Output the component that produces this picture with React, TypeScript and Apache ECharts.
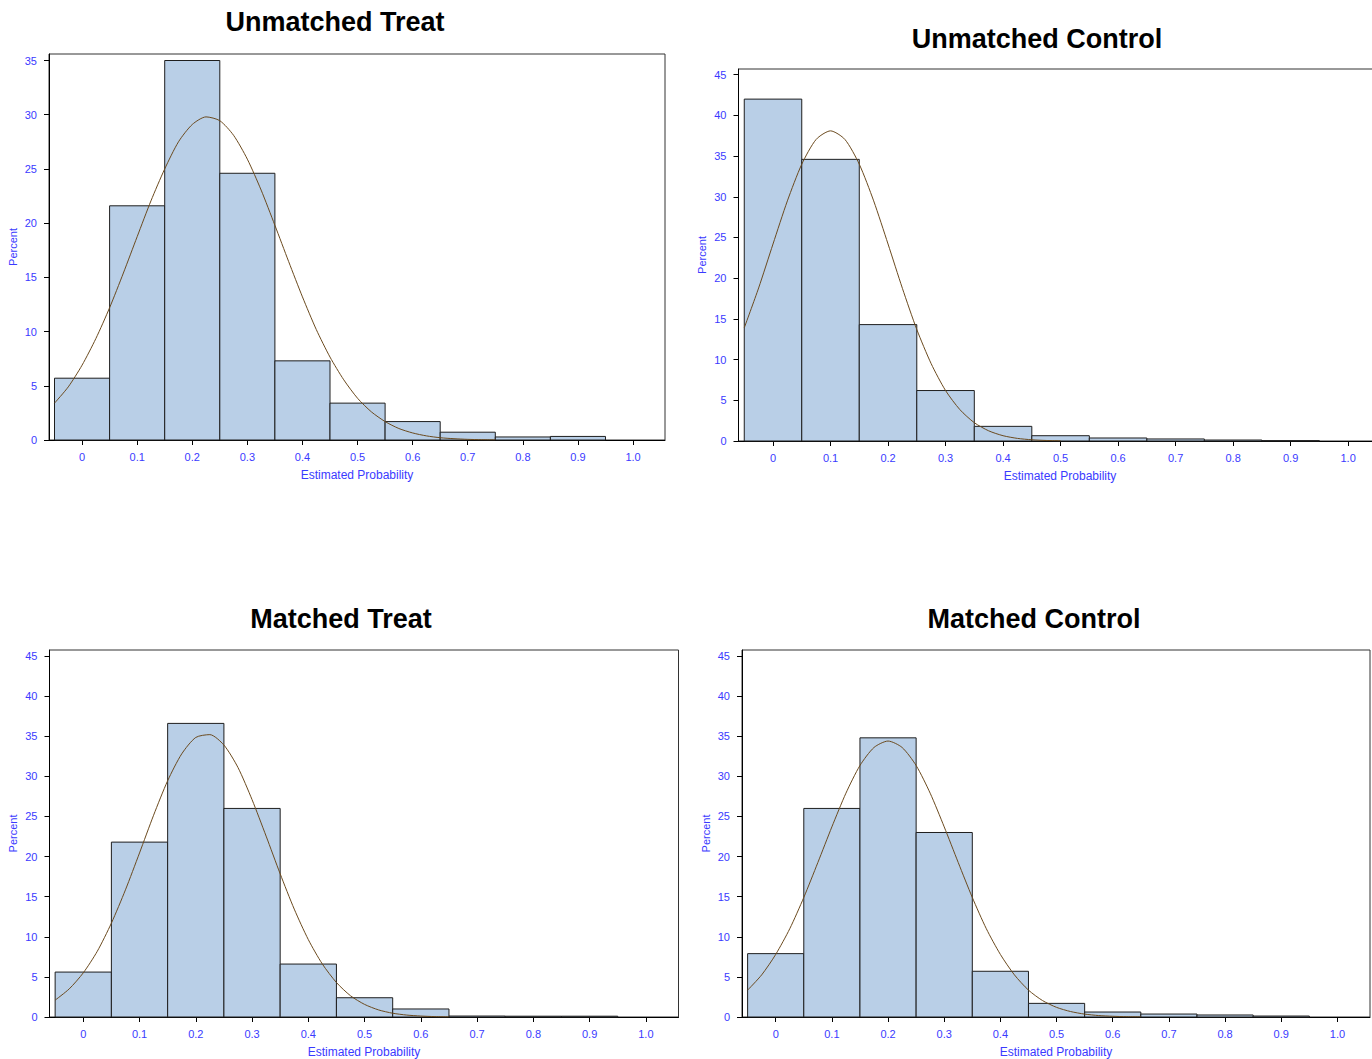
import React, { useEffect, useRef } from "react";
import * as echarts from "echarts";

// ---------- data ----------
const binCenters = [0, 0.1, 0.2, 0.3, 0.4, 0.5, 0.6, 0.7, 0.8, 0.9, 1.0];
const BIN_W = 0.1;

const unmatchedTreatBars = [5.7, 21.6, 35.0, 24.6, 7.3, 3.4, 1.7, 0.72, 0.28, 0.33, 0];
const unmatchedControlBars = [42.0, 34.6, 14.3, 6.2, 1.8, 0.65, 0.37, 0.25, 0.12, 0.04, 0];
const matchedTreatBars = [5.6, 21.8, 36.6, 26.0, 6.6, 2.4, 1.0, 0.12, 0.1, 0.1, 0];
const matchedControlBars = [7.9, 26.0, 34.8, 23.0, 5.7, 1.7, 0.62, 0.37, 0.25, 0.12, 0];

const curveX = [
  -0.05, -0.025, 0, 0.025, 0.05, 0.075, 0.1, 0.125, 0.15, 0.175, 0.2, 0.225, 0.25, 0.275,
  0.3, 0.325, 0.35, 0.375, 0.4, 0.425, 0.45, 0.475, 0.5, 0.525, 0.55, 0.575, 0.6, 0.625,
  0.65, 0.675, 0.7, 0.725, 0.75,
];
const unmatchedTreatCurve = [
  3.4, 4.9, 6.9, 9.35, 12.2, 15.4, 18.75, 22.05, 25.0, 27.5, 29.1, 29.8, 29.45, 28.1,
  25.9, 23.05, 19.8, 16.45, 13.2, 10.2, 7.65, 5.55, 3.85, 2.6, 1.7, 1.06, 0.65, 0.38,
  0.21, 0.12, 0.06, 0.03, 0.015,
];
const unmatchedControlCurve = [
  13.9, 18.8, 24.2, 29.5, 34.0, 37.05, 38.1, 37.05, 34.0, 29.5, 24.2, 18.75, 13.7, 9.5,
  6.2, 3.85, 2.25, 1.25, 0.65, 0.32, 0.15, 0.065, 0.03,
];
const matchedTreatCurve = [
  2.1, 3.5, 5.5, 8.2, 11.7, 15.85, 20.45, 25.15, 29.45, 32.8, 34.85, 35.2, 33.9, 31.1,
  27.1, 22.55, 17.85, 13.45, 9.65, 6.6, 4.3, 2.65, 1.57, 0.88, 0.47, 0.24, 0.12, 0.05,
  0.02,
];
const matchedControlCurve = [
  3.35, 5.25, 7.8, 11.0, 14.9, 19.25, 23.7, 27.9, 31.35, 33.6, 34.4, 33.6, 31.35, 27.9,
  23.7, 19.25, 14.9, 11.0, 7.8, 5.25, 3.35, 2.05, 1.2, 0.68, 0.36, 0.18, 0.09, 0.04,
  0.02,
];

const xTickValues = [0, 0.1, 0.2, 0.3, 0.4, 0.5, 0.6, 0.7, 0.8, 0.9, 1.0];
const xTickLabels = ["0", "0.1", "0.2", "0.3", "0.4", "0.5", "0.6", "0.7", "0.8", "0.9", "1.0"];
const yTicks35 = [0, 5, 10, 15, 20, 25, 30, 35];
const yTicks45 = [0, 5, 10, 15, 20, 25, 30, 35, 40, 45];

const titles = ["Unmatched Treat", "Unmatched Control", "Matched Treat", "Matched Control"];
const xTitle = "Estimated Probability";
const yTitle = "Percent";

// ---------- layout / style ----------
const FONT = '"Liberation Sans", Arial, Helvetica, sans-serif';
const BLUE = "#3a3aff";
const BAR_FILL = "#b9cfe7";
const CURVE = "#6b4a1e";
const X_MIN = -0.06;
const X_MAX = 1.058;

const panels = [
  { grid: { left: 49, top: 54, width: 616, height: 386 }, yMax: 35.6, yTicks: yTicks35, bars: unmatchedTreatBars, curve: unmatchedTreatCurve, title: { x: 335, y: 22 } },
  { grid: { left: 738.5, top: 69, width: 643, height: 372 }, yMax: 45.7, yTicks: yTicks45, bars: unmatchedControlBars, curve: unmatchedControlCurve, title: { x: 1037, y: 39 } },
  { grid: { left: 49.5, top: 650, width: 629, height: 368 }, yMax: 45.75, yTicks: yTicks45, bars: matchedTreatBars, curve: matchedTreatCurve, title: { x: 341, y: 619 } },
  { grid: { left: 742, top: 650, width: 628, height: 368 }, yMax: 45.75, yTicks: yTicks45, bars: matchedControlBars, curve: matchedControlCurve, title: { x: 1034, y: 619 } },
];

function xLabel(v: number): string {
  const i = xTickValues.findIndex((t) => Math.abs(t - v) < 1e-9);
  return i >= 0 ? xTickLabels[i] : "";
}

export default function App() {
  const ref = useRef<HTMLDivElement>(null);

  useEffect(() => {
    if (!ref.current) return;
    const chart = echarts.init(ref.current, null, { renderer: "svg" });

    const grids = panels.map((p) => ({
      ...p.grid,
      show: true,
      borderColor: "#333",
      borderWidth: 1,
      backgroundColor: "transparent",
      containLabel: false,
    }));

    const xAxes = panels.map((p, i) => ({
      type: "value",
      gridIndex: i,
      min: X_MIN,
      max: X_MAX,
      name: xTitle,
      nameLocation: "middle",
      nameGap: 29,
      nameTextStyle: { color: BLUE, fontSize: 12, fontFamily: FONT },
      axisLine: { show: true, onZero: false, lineStyle: { color: "#000", width: 1 } },
      axisTick: { show: true, length: 5, customValues: xTickValues, lineStyle: { color: "#000" } },
      axisLabel: {
        show: true,
        customValues: xTickValues,
        margin: 11,
        color: BLUE,
        fontSize: 11,
        fontFamily: FONT,
        formatter: (v: number) => xLabel(v),
      },
      splitLine: { show: false },
    }));

    const yAxes = panels.map((p, i) => ({
      type: "value",
      gridIndex: i,
      position: "left",
      min: 0,
      max: p.yMax,
      name: yTitle,
      nameLocation: "middle",
      nameGap: 31,
      nameRotate: 90,
      nameTextStyle: { color: BLUE, fontSize: 11, fontFamily: FONT },
      axisLine: { show: true, onZero: false, lineStyle: { color: "#000", width: 1 } },
      axisTick: { show: true, length: 5, customValues: p.yTicks, lineStyle: { color: "#000" } },
      axisLabel: {
        show: true,
        customValues: p.yTicks,
        margin: 12,
        color: BLUE,
        fontSize: 11,
        fontFamily: FONT,
        formatter: (v: number) => String(v),
      },
      splitLine: { show: false },
    }));

    const series: any[] = [];
    panels.forEach((p, i) => {
      series.push({
        type: "custom",
        xAxisIndex: i,
        yAxisIndex: i,
        z: 2,
        encode: { x: 0, y: 1 },
        data: binCenters.map((c, k) => [c, p.bars[k]]),
        renderItem: (_params: any, api: any) => {
          const c = api.value(0);
          const v = api.value(1);
          if (!(v > 0)) return null;
          const p1 = api.coord([c - BIN_W / 2, v]);
          const p2 = api.coord([c + BIN_W / 2, 0]);
          return {
            type: "rect",
            shape: { x: p1[0], y: p1[1], width: p2[0] - p1[0], height: p2[1] - p1[1] },
            style: { fill: BAR_FILL, stroke: "#1e1e1e", lineWidth: 1 },
          };
        },
      });
      series.push({
        type: "line",
        xAxisIndex: i,
        yAxisIndex: i,
        z: 3,
        smooth: 0.25,
        showSymbol: false,
        symbol: "none",
        lineStyle: { color: CURVE, width: 1 },
        data: p.curve.map((y, k) => [curveX[k], y]),
      });
    });

    const graphic = panels.map((p, i) => ({
      type: "text",
      x: p.title.x,
      y: p.title.y,
      z: 10,
      style: {
        text: titles[i],
        font: `bold 27px ${FONT}`,
        fill: "#000",
        textAlign: "center",
        textVerticalAlign: "middle",
      },
    }));

    chart.setOption({
      animation: false,
      backgroundColor: "#fff",
      textStyle: { fontFamily: FONT },
      grid: grids,
      xAxis: xAxes,
      yAxis: yAxes,
      series,
      graphic,
    });

    return () => chart.dispose();
  }, []);

  return (
    <div
      style={{
        position: "absolute",
        left: 0,
        top: 0,
        width: 1372,
        height: 1059,
        overflow: "hidden",
        background: "#fff",
      }}
    >
      <div ref={ref} style={{ width: 1400, height: 1059 }} />
    </div>
  );
}
